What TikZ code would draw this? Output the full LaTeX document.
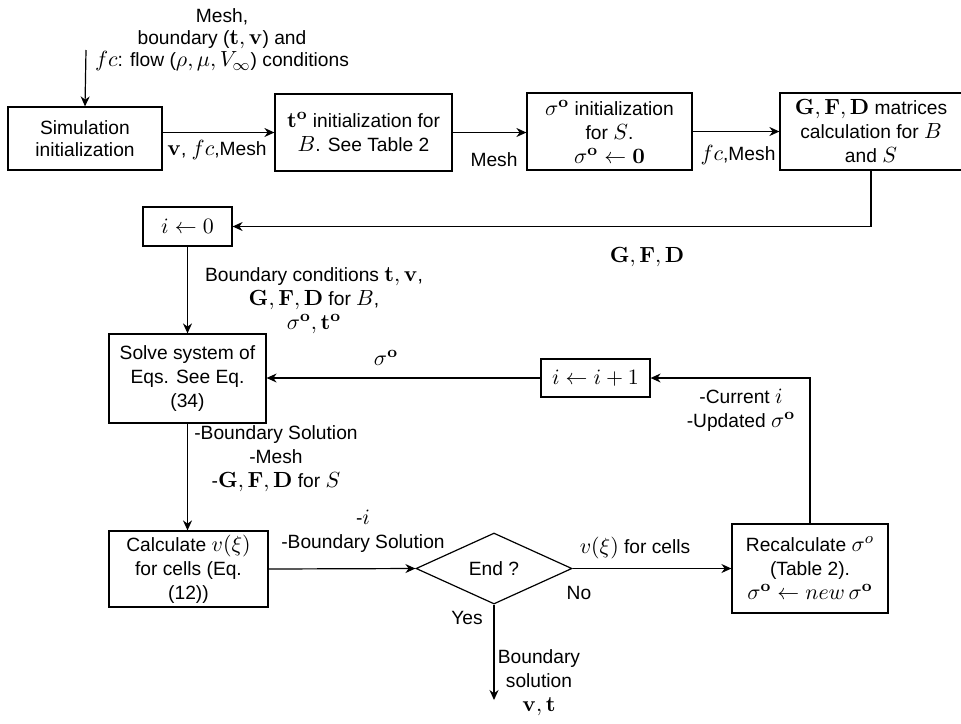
\documentclass[tikz,border=0pt]{standalone}
\usepackage{amsmath,amssymb}
\usepackage[no-math]{fontspec}
\setmainfont{Liberation Sans}
\DeclareMathSizes{9.6}{11.3}{8}{6}
\usetikzlibrary{arrows.meta,shapes.geometric}

\begin{document}
\begin{tikzpicture}[x=0.5pt, y=-0.5pt, line width=0.6pt,
    font=\fontsize{9.6}{12}\selectfont,
    >={Stealth[length=5pt,width=4.5pt]},
    box/.style={draw, align=center, inner sep=0pt},
    lbl/.style={align=center, inner sep=0pt}]

    \useasboundingbox (0,0) rectangle (961,723);

    % Top row of boxes
    \node[box, minimum width=77pt, minimum height=31.5pt, font=\fontsize{9.6}{11}\selectfont] (sim) at (85,138.5) {Simulation\\initialization};
    \node[box, minimum width=88.5pt, minimum height=38.5pt] (tinit) at (363.5,132.5) {$\mathbf{t}^{\mathbf{o}}$ initialization for\\$B$. See Table 2};
    \node[box, minimum width=82.5pt, minimum height=38.5pt] (sinit) at (609.5,131.5) {$\sigma^{\mathbf{o}}$ initialization\\for $S$.\\$\sigma^{\mathbf{o}}\leftarrow\mathbf{0}$};
    \node[box, minimum width=91pt, minimum height=38.5pt] (gfd) at (871,131.5) {$\mathbf{G},\mathbf{F},\mathbf{D}$ matrices\\calculation for $B$\\and $S$};

    % Loop boxes
    \node[box, minimum width=44.5pt, minimum height=19.5pt] (i0) at (187.5,226.5) {$i\leftarrow0$};
    \node[box, minimum width=78.5pt, minimum height=44.5pt] (solve) at (187.5,378.5) {Solve system of\\Eqs. See Eq.\\(34)};
    \node[box, minimum width=54.5pt, minimum height=19pt] (i1) at (595.5,378) {$i\leftarrow i+1$};
    \node[box, minimum width=79.5pt, minimum height=38pt] (calc) at (188.5,569) {Calculate $v(\xi)$\\for cells (Eq.\\(12))};
    \node[box, diamond, aspect=2, minimum width=78pt, minimum height=35.5pt] (end) at (494,568.5) {End ?};
    \node[box, minimum width=78pt, minimum height=44.5pt] (recalc) at (810,568.5) {Recalculate $\sigma^{o}$\\(Table 2).\\$\sigma^{\mathbf{o}}\leftarrow new\,\sigma^{\mathbf{o}}$};

    % Free ends
    \coordinate (input) at (86,50);
    \coordinate (output) at (494,700);

    % Connectors
    \draw[->] (input) -- (sim.north);
    \draw[->] (sim.east |- tinit.west) -- (tinit.west);
    \draw[->] (tinit.east) -- (tinit.east -| sinit.west);
    \draw[->] (sinit.east) -- (sinit.east -| gfd.west);
    \draw[->] (gfd.south) |- (i0.east);
    \draw[->] (i0) -- (solve);
    \draw[->] (i1.west) -- (i1.west -| solve.east);
    \draw[->] (recalc.north) |- (i1.east);
    \draw[->] (solve.south) -- (solve.south |- calc.north);
    \draw[->] (calc.east) -- (end.west);
    \draw[->] (end.east) -- (recalc.west);
    \draw[->] (end.south) -- (output);

    % Labels
    \node[lbl, font=\fontsize{9.6}{11}\selectfont] (inlbl) at (222,40) {Mesh,\\boundary ($\mathbf{t},\mathbf{v}$) and\\$fc$: flow ($\rho,\mu,V_\infty$) conditions};
    \node[lbl] (simlbl) at (217,150) {$\mathbf{v}$, $fc$,Mesh};
    \node[lbl] (tlbl) at (494,160) {Mesh};
    \node[lbl] (slbl) at (738,155) {$fc$,Mesh};
    \node[lbl] (gfdlbl) at (647,257) {$\mathbf{G},\mathbf{F},\mathbf{D}$};
    \node[lbl] (i0lbl) at (314,301) {Boundary conditions $\mathbf{t},\mathbf{v}$,\\$\mathbf{G},\mathbf{F},\mathbf{D}$ for $B$,\\$\sigma^{\mathbf{o}},\mathbf{t}^{\mathbf{o}}$};
    \node[lbl] (i1lbl) at (386,358) {$\sigma^{\mathbf{o}}$};
    \node[lbl] (reclbl) at (741,410) {-Current $i$\\-Updated $\sigma^{\mathbf{o}}$};
    \node[lbl] (solvelbl) at (276,459) {-Boundary Solution\\-Mesh\\-$\mathbf{G},\mathbf{F},\mathbf{D}$ for $S$};
    \node[lbl] (calclbl) at (363,531) {-$i$\\-Boundary Solution};
    \node[lbl] (cellslbl) at (635,548) {$v(\xi)$ for cells};
    \node[lbl] (nolbl) at (579,593) {No};
    \node[lbl] (yeslbl) at (467,618) {Yes};
    \node[lbl] (outlbl) at (539,683) {Boundary\\solution\\$\mathbf{v},\mathbf{t}$};

\end{tikzpicture}
\end{document}
